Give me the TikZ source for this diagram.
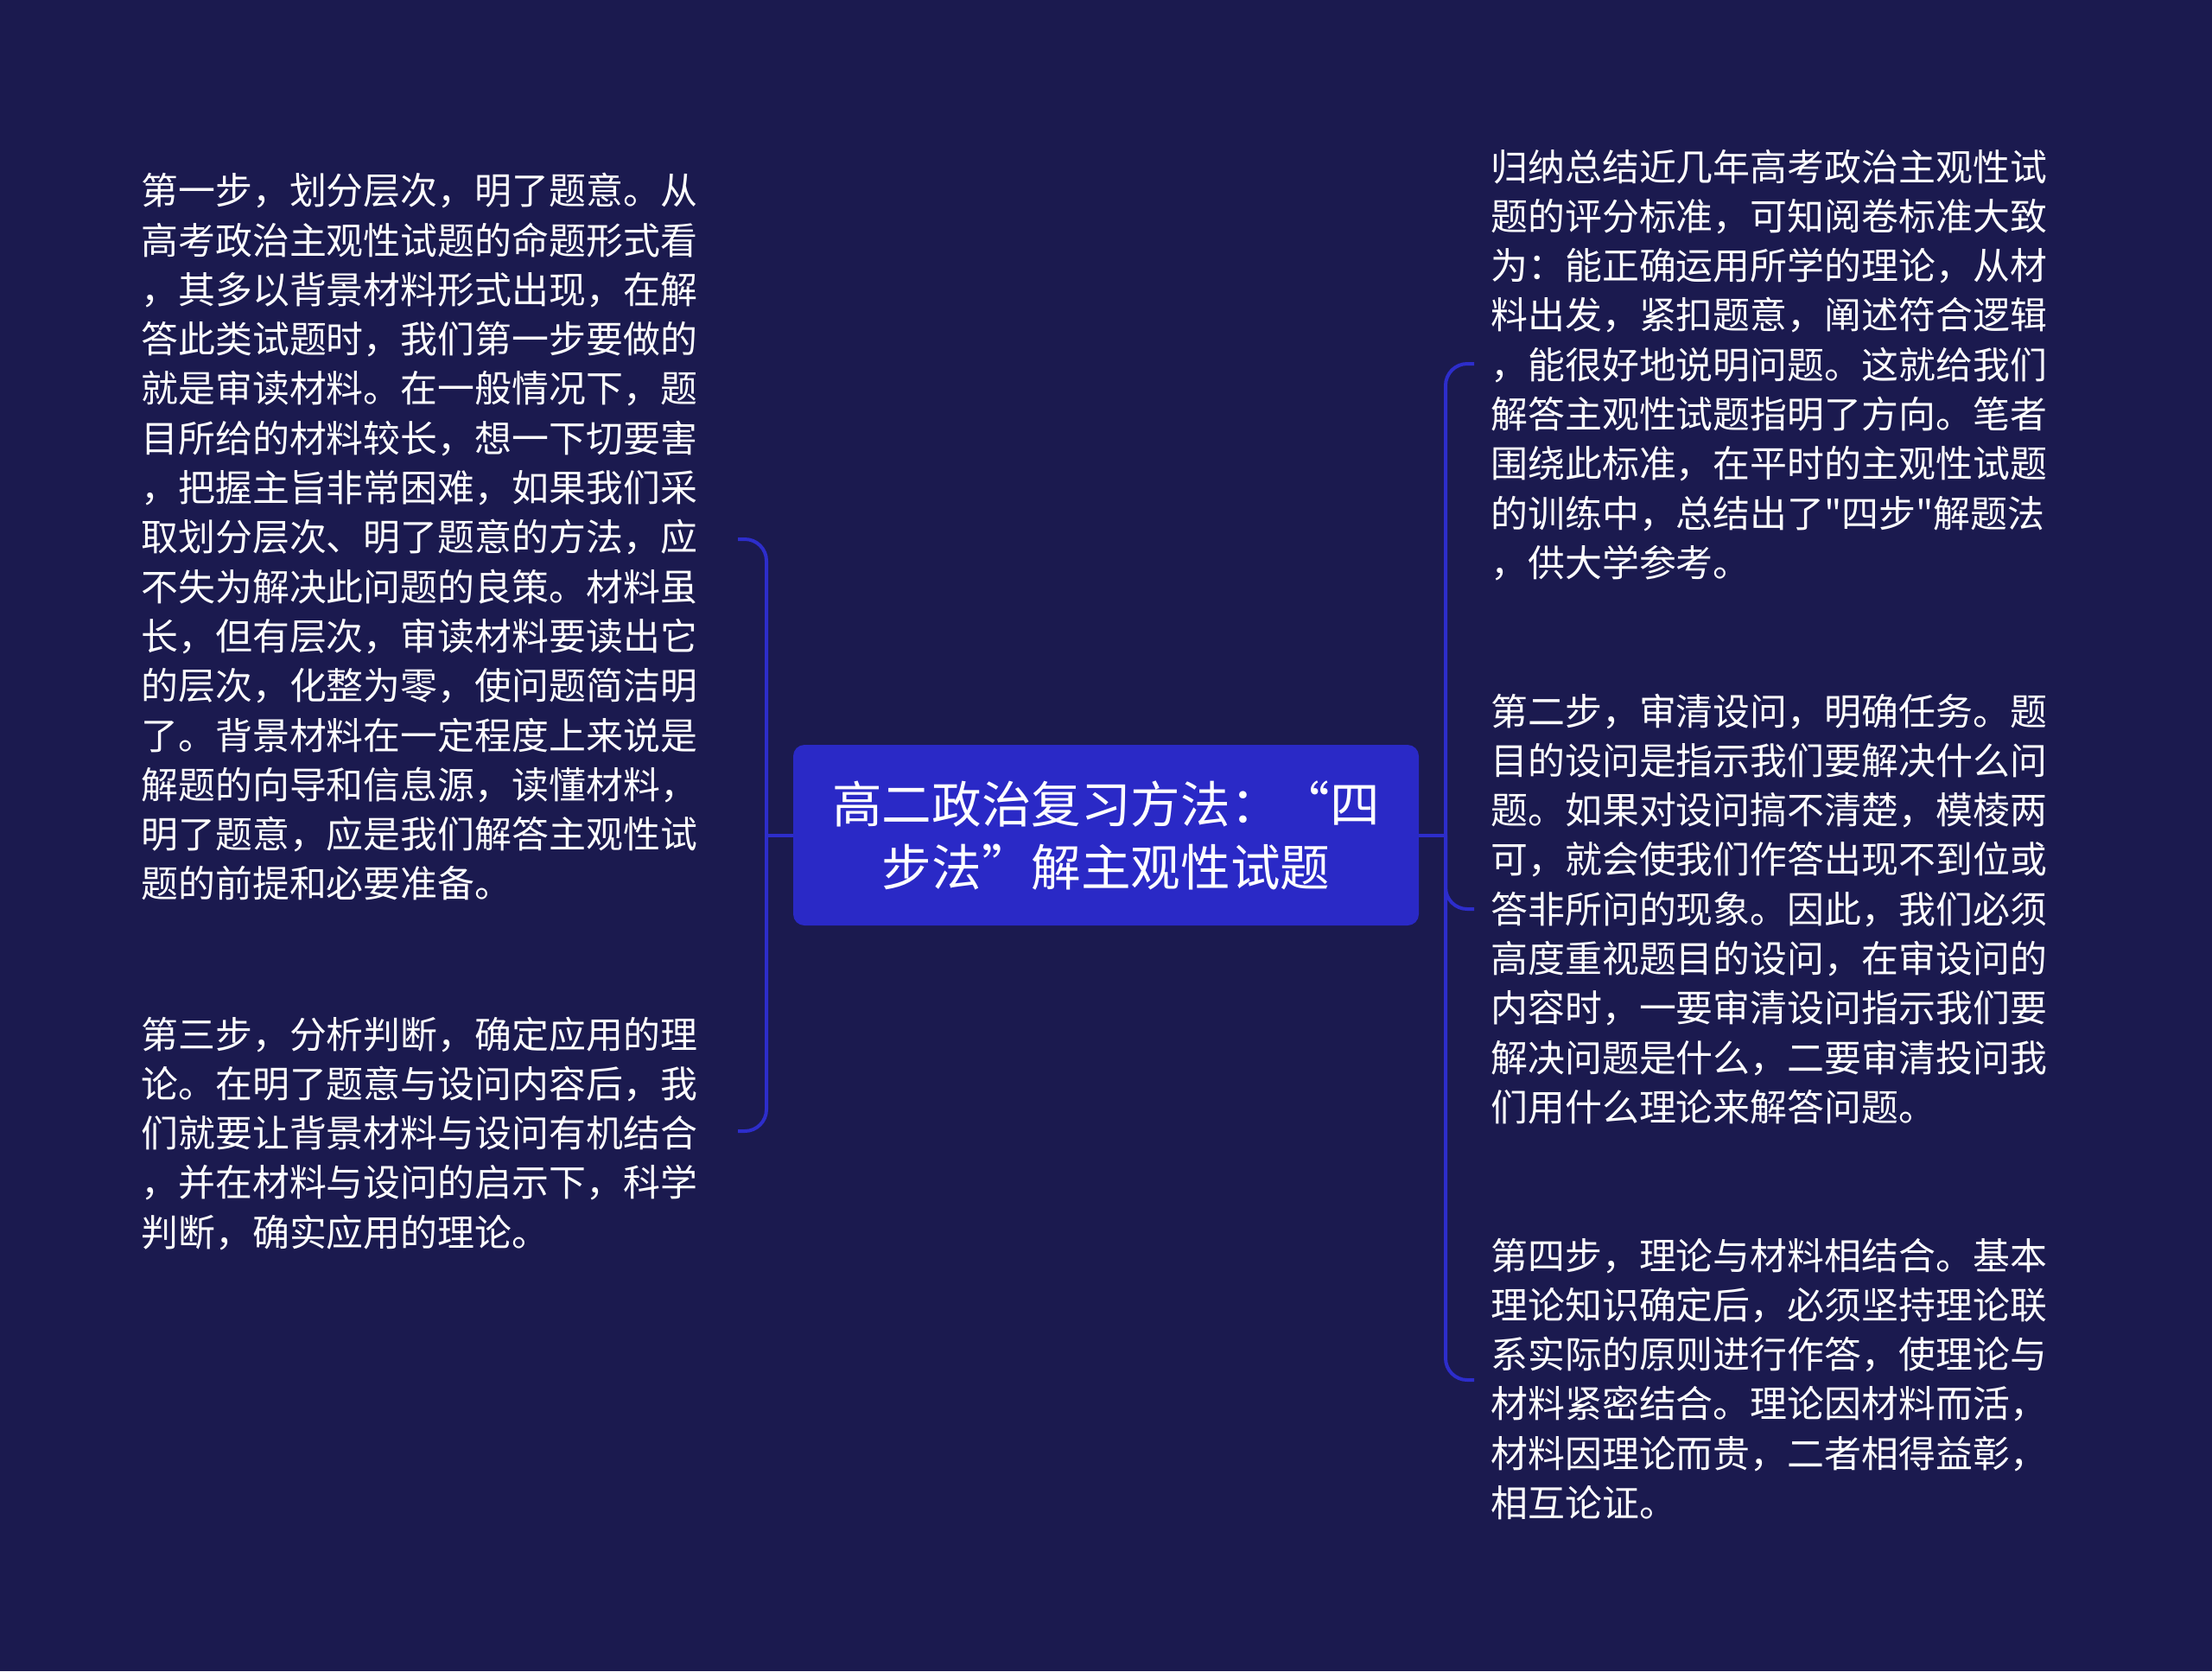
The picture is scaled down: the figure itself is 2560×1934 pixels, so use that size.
\documentclass[tikz,border=0pt]{standalone}
\usepackage{fontspec}
\newfontfamily\cjk{Noto Sans CJK SC}
\definecolor{bg}{HTML}{1B1A4F}
\definecolor{boxc}{HTML}{2A29C6}
\definecolor{linec}{HTML}{2D2DCB}
\begin{document}
\begin{tikzpicture}[x=0.5pt,y=-0.5pt,
  title/.style={fill=boxc, rounded corners=6.5pt, minimum width=362pt, minimum height=104.5pt,
    text=white, align=center, inner sep=0pt, font=\cjk\fontsize{28.8}{36.5}\selectfont},
  leaf/.style={text=white, text width=340pt, align=left, anchor=base west, inner sep=0pt,
    font=\cjk\fontsize{21.45}{28.65}\selectfont},
  conn/.style={draw=linec, line width=2pt, rounded corners=12.5pt}]
\fill[bg] (0,0) rectangle (2560,1934);
\useasboundingbox (0,0) rectangle (2560,1934);

\node[title] (root) at (1280,966.5) {高二政治复习方法：“四\\步法”解主观性试题};

\node[leaf] (l1t) at (163,236.7) {第一步，划分层次，明了题意。从\\
高考政治主观性试题的命题形式看\\
，其多以背景材料形式出现，在解\\
答此类试题时，我们第一步要做的\\
就是审读材料。在一般情况下，题\\
目所给的材料较长，想一下切要害\\
，把握主旨非常困难，如果我们采\\
取划分层次、明了题意的方法，应\\
不失为解决此问题的良策。材料虽\\
长，但有层次，审读材料要读出它\\
的层次，化整为零，使问题简洁明\\
了。背景材料在一定程度上来说是\\
解题的向导和信息源，读懂材料，\\
明了题意，应是我们解答主观性试\\
题的前提和必要准备。};

\node[leaf] (l2t) at (163,1213) {第三步，分析判断，确定应用的理\\
论。在明了题意与设问内容后，我\\
们就要让背景材料与设问有机结合\\
，并在材料与设问的启示下，科学\\
判断，确实应用的理论。};

\node[leaf] (r1t) at (1725,209) {归纳总结近几年高考政治主观性试\\
题的评分标准，可知阅卷标准大致\\
为：能正确运用所学的理论，从材\\
料出发，紧扣题意，阐述符合逻辑\\
，能很好地说明问题。这就给我们\\
解答主观性试题指明了方向。笔者\\
围绕此标准，在平时的主观性试题\\
的训练中，总结出了"四步"解题法\\
，供大学参考。};

\node[leaf] (r2t) at (1725,839) {第二步，审清设问，明确任务。题\\
目的设问是指示我们要解决什么问\\
题。如果对设问搞不清楚，模棱两\\
可，就会使我们作答出现不到位或\\
答非所问的现象。因此，我们必须\\
高度重视题目的设问，在审设问的\\
内容时，一要审清设问指示我们要\\
解决问题是什么，二要审清投问我\\
们用什么理论来解答问题。};

\node[leaf] (r3t) at (1725,1469) {第四步，理论与材料相结合。基本\\
理论知识确定后，必须坚持理论联\\
系实际的原则进行作答，使理论与\\
材料紧密结合。理论因材料而活，\\
材料因理论而贵，二者相得益彰，\\
相互论证。};

% connectors
\coordinate (lj) at (887,966.5);
\coordinate (l1) at (854,624);
\coordinate (l2) at (854,1309);
\coordinate (rj) at (1673,966.5);
\coordinate (r1) at (1706,421);
\coordinate (r2) at (1706,1052);
\coordinate (r3) at (1706,1597);

\draw[conn] (root.west) -- (lj);
\draw[conn] (l1) -- (l1 -| lj) -- (l2 -| lj) -- (l2);
\draw[conn] (root.east) -- (rj);
\draw[conn] (r1) -- (r1 -| rj) -- (r3 -| rj) -- (r3);
\draw[conn] (r2) -- (r2 -| rj) -- (rj);
\end{tikzpicture}
\end{document}
